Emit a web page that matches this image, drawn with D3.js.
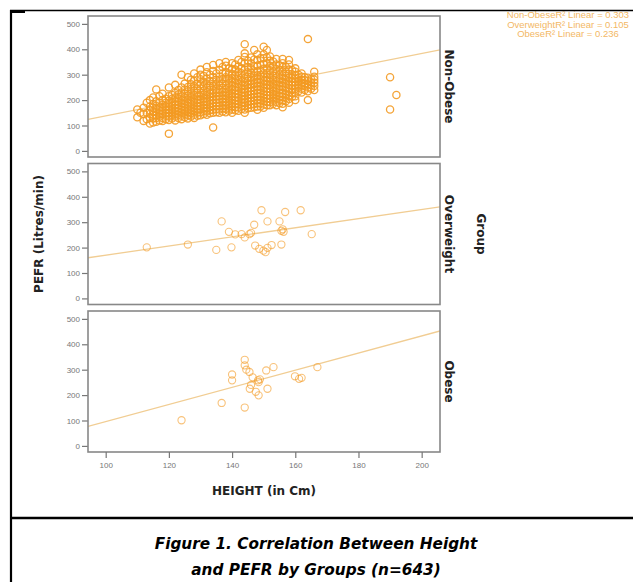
<!DOCTYPE html>
<html>
<head>
<meta charset="utf-8">
<script src="https://cdn.jsdelivr.net/npm/d3@7"></script>
<style>
  body { margin: 0; background: #fff; }
</style>
</head>
<body>
<div id="grafico"></div>
<script>
const WIDTH = 633;
const HEIGHT = 582;

// groups shown as facets (top to bottom)
const groups = ["Non-Obese", "Overweight", "Obese"];

// Non-Obese: height (cm) with the PEFR values read in that column
const nonObese = [
  [110, [132, 163]],
  [111, [150]],
  [112, [118, 145, 170]],
  [113, [125, 150, 190]],
  [114, [108, 130, 145, 160, 175, 200]],
  [115, [112, 128, 142, 155, 170, 185, 210]],
  [116, [115, 130, 140, 152, 165, 178, 195, 242]],
  [117, [120, 135, 148, 160, 172, 190, 215]],
  [118, [118, 130, 145, 158, 170, 182, 200, 225]],
  [119, [125, 138, 150, 163, 176, 190, 205]],
  [120, [68, 122, 135, 148, 160, 172, 185, 198, 215, 250]],
  [121, [128, 140, 152, 165, 178, 190, 205, 220]],
  [122, [120, 135, 147, 158, 170, 182, 195, 210, 228, 260]],
  [123, [130, 142, 155, 168, 180, 193, 207, 222, 240]],
  [124, [125, 138, 150, 162, 175, 188, 200, 214, 230, 250, 300]],
  [125, [132, 145, 158, 170, 183, 196, 210, 225, 242, 265]],
  [126, [128, 140, 152, 165, 178, 190, 203, 218, 234, 252, 290]],
  [127, [135, 148, 160, 172, 185, 198, 212, 226, 244, 262, 280]],
  [128, [130, 142, 155, 168, 180, 192, 205, 220, 236, 255, 275, 305]],
  [129, [138, 150, 162, 175, 188, 200, 214, 228, 245, 264, 290]],
  [130, [140, 152, 165, 177, 190, 202, 215, 230, 246, 262, 282, 300, 320]],
  [131, [145, 158, 170, 182, 195, 208, 222, 238, 254, 272, 295]],
  [132, [142, 155, 167, 180, 192, 205, 218, 232, 248, 265, 285, 310, 330]],
  [133, [148, 160, 172, 185, 198, 211, 225, 240, 256, 275, 300]],
  [134, [92, 150, 162, 175, 188, 200, 213, 226, 240, 256, 272, 290, 315, 338]],
  [135, [152, 165, 178, 190, 203, 216, 230, 245, 262, 280, 305]],
  [136, [150, 163, 176, 189, 202, 215, 228, 242, 258, 274, 292, 318, 345]],
  [137, [155, 168, 180, 193, 206, 219, 233, 248, 265, 283, 305, 330]],
  [138, [152, 165, 178, 190, 203, 216, 229, 243, 258, 274, 290, 310, 335, 350]],
  [139, [158, 170, 183, 196, 209, 222, 236, 251, 267, 285, 305, 325]],
  [140, [150, 163, 176, 189, 202, 215, 228, 242, 256, 271, 287, 303, 322, 345]],
  [141, [160, 172, 185, 198, 211, 224, 238, 252, 268, 284, 300, 320, 340]],
  [142, [158, 171, 184, 197, 210, 223, 236, 250, 264, 279, 295, 312, 332, 358]],
  [143, [165, 178, 191, 204, 217, 230, 244, 258, 273, 289, 306, 325, 350]],
  [144, [150, 163, 176, 189, 202, 215, 228, 242, 256, 270, 286, 302, 320, 345, 370, 384, 420]],
  [145, [168, 181, 194, 207, 220, 233, 247, 261, 276, 292, 310, 330, 355]],
  [146, [170, 183, 196, 209, 222, 235, 248, 262, 276, 291, 307, 325, 345, 368]],
  [147, [172, 185, 198, 211, 224, 237, 251, 265, 280, 296, 313, 333, 360, 397]],
  [148, [162, 175, 188, 201, 214, 227, 240, 254, 268, 283, 298, 315, 335, 358, 380]],
  [149, [175, 188, 201, 214, 227, 240, 254, 268, 283, 299, 317, 338, 365]],
  [150, [170, 183, 196, 209, 222, 235, 248, 262, 276, 291, 306, 323, 342, 365, 380, 410]],
  [151, [180, 193, 206, 219, 232, 246, 260, 275, 290, 306, 324, 345, 368, 397]],
  [152, [180, 192, 205, 218, 231, 244, 258, 272, 286, 301, 317, 335, 355, 372]],
  [153, [185, 198, 211, 224, 237, 251, 265, 280, 296, 313, 332, 352]],
  [154, [180, 193, 206, 219, 232, 246, 260, 274, 289, 305, 322, 340, 362]],
  [155, [188, 201, 214, 227, 241, 255, 270, 285, 301, 318, 336]],
  [156, [172, 186, 199, 212, 226, 240, 254, 268, 283, 298, 314, 330, 345, 362]],
  [157, [195, 208, 222, 236, 250, 265, 280, 296, 312, 330]],
  [158, [190, 204, 218, 232, 246, 260, 274, 288, 303, 320, 340, 358]],
  [159, [213, 228, 243, 258, 272, 287, 302, 318]],
  [160, [200, 215, 230, 245, 258, 270, 283, 297, 312, 325]],
  [161, [235, 250, 262, 275, 288, 300]],
  [162, [230, 245, 258, 268, 280, 292, 305]],
  [163, [240, 255, 265, 278, 290]],
  [164, [200, 235, 250, 262, 275, 288, 440]],
  [165, [245, 258, 270, 282]],
  [166, [240, 255, 268, 280, 292, 312]],
  [190, [163, 290]],
  [192, [220]]
];

// Overweight: [height, PEFR]
const overweight = [
  [113, 201], [126, 212], [135, 191], [136.7, 303], [139.8, 201], [139, 262],
  [141, 252], [143, 253], [145.5, 253], [147, 290], [149.3, 347], [151.2, 303],
  [147.3, 208], [148.6, 195], [149.9, 188], [151.2, 199], [150.6, 182], [152.5, 210],
  [155, 303], [155.6, 266], [156, 272], [156.3, 262], [155.6, 212], [156.8, 340],
  [161.7, 347], [165.2, 253], [146, 258], [144, 240]
];

// Obese: [height, PEFR]
const obese = [
  [124, 101], [136.7, 169], [140, 281], [140, 258], [144, 339], [144, 317],
  [144, 151], [144.5, 300], [145.5, 291], [145.6, 225], [146, 240], [147.5, 213],
  [148.2, 258], [148.4, 251], [148.8, 262], [148.4, 199], [150.8, 297], [153.1, 310],
  [151.2, 225], [159.9, 274], [161.2, 264], [162, 268], [167, 310], [146.5, 270]
];

// linear fit per group
const fitIntercept = [-108.2, -9.9, -241.1];
const fitSlope = [2.46, 1.80, 3.37];
const rSquared = ["0.303", "0.105", "0.236"];

const yTicks = [0, 100, 200, 300, 400, 500];
const xTicks = [100, 120, 140, 160, 180, 200];

const captionLines = ["Figure 1. Correlation Between Height", "and PEFR by Groups (n=643)"];

// layout
const panelLeft = 88;
const panelRight = 440;
const panelTops = [16, 163.5, 311];
const panelH = 141;
const dotColor = "#f39a22";
const fitColor = "#f1cd93";
const boldFont = "'DejaVu Sans', Verdana, sans-serif";

let svg = d3.select("#grafico")
    .append("svg")
    .attr("width", WIDTH)
    .attr("height", HEIGHT)
    .style("display", "block");

svg.append("rect").attr("width", WIDTH).attr("height", HEIGHT).attr("fill", "#fff");

let x = d3.scaleLinear()
    .domain([94.4, 205.8])
    .range([panelLeft, panelRight]);

let pointSets = [
    nonObese.flatMap(([h, vals]) => vals.map(v => [h, v])),
    overweight,
    obese
];

groups.forEach((g, i) => {
    let top = panelTops[i];
    let y = d3.scaleLinear()
        .domain([-24, 531])
        .range([top + panelH, top]);

    let panel = svg.append("g");

    svg.append("clipPath")
        .attr("id", "clip" + i)
        .append("rect")
        .attr("x", panelLeft)
        .attr("y", top)
        .attr("width", panelRight - panelLeft)
        .attr("height", panelH);

    // y axis
    let yAxis = d3.axisLeft(y).tickValues(yTicks).tickSize(6).tickPadding(2);
    let ya = panel.append("g")
        .attr("transform", `translate(${panelLeft},0)`)
        .call(yAxis);
    ya.select(".domain").remove();
    ya.selectAll("line").attr("stroke", "#777").attr("stroke-width", 1.2);
    ya.selectAll("text")
        .attr("fill", "#777")
        .style("font-family", "'Liberation Sans', Arial, sans-serif")
        .style("font-size", "8px");

    // fit line
    let xd = x.domain();
    panel.append("line")
        .attr("clip-path", `url(#clip${i})`)
        .attr("x1", x(xd[0]))
        .attr("y1", y(fitIntercept[i] + fitSlope[i] * xd[0]))
        .attr("x2", x(xd[1]))
        .attr("y2", y(fitIntercept[i] + fitSlope[i] * xd[1]))
        .attr("stroke", fitColor)
        .attr("stroke-width", 1.3);

    // points
    panel.selectAll(".pt")
        .data(pointSets[i])
        .enter()
        .append("circle")
        .attr("cx", d => x(d[0]))
        .attr("cy", d => y(d[1]))
        .attr("r", 3.6)
        .attr("fill", "none")
        .attr("stroke", dotColor)
        .attr("stroke-opacity", i === 0 ? 0.9 : 0.6)
        .attr("stroke-width", i === 0 ? 1.3 : 1.1);

    // frame
    panel.append("rect")
        .attr("x", panelLeft)
        .attr("y", top)
        .attr("width", panelRight - panelLeft)
        .attr("height", panelH)
        .attr("fill", "none")
        .attr("stroke", "#888")
        .attr("stroke-width", 1.6);

    // facet label
    panel.append("text")
        .attr("transform", `translate(${panelRight + 5},${top + panelH / 2}) rotate(90)`)
        .attr("text-anchor", "middle")
        .style("font-family", boldFont)
        .style("font-weight", "bold")
        .style("font-size", "12px")
        .attr("fill", "#222")
        .text(g);

    // x axis only under last panel
    if (i === groups.length - 1) {
        let xa = panel.append("g")
            .attr("transform", `translate(0,${top + panelH})`)
            .call(d3.axisBottom(x).tickValues(xTicks).tickSize(6).tickPadding(4));
        xa.select(".domain").remove();
        xa.selectAll("line").attr("stroke", "#777").attr("stroke-width", 1.2);
        xa.selectAll("text")
            .attr("fill", "#777")
            .style("font-family", "'Liberation Sans', Arial, sans-serif")
            .style("font-size", "8px");
    }
});

// axis titles
svg.append("text")
    .attr("transform", `translate(43,${panelTops[1] + panelH / 2}) rotate(-90)`)
    .attr("text-anchor", "middle")
    .style("font-family", boldFont)
    .style("font-weight", "bold")
    .style("font-size", "12px")
    .attr("fill", "#222")
    .text("PEFR (Litres/min)");

svg.append("text")
    .attr("x", (panelLeft + panelRight) / 2)
    .attr("y", 495)
    .attr("text-anchor", "middle")
    .style("font-family", boldFont)
    .style("font-weight", "bold")
    .style("font-size", "12px")
    .attr("fill", "#222")
    .text("HEIGHT (in Cm)");

svg.append("text")
    .attr("transform", `translate(477,${panelTops[1] + panelH / 2}) rotate(90)`)
    .attr("text-anchor", "middle")
    .style("font-family", boldFont)
    .style("font-weight", "bold")
    .style("font-size", "12px")
    .attr("fill", "#222")
    .text("Group");

// fit legend, top right
svg.selectAll(".legend")
    .data(groups)
    .enter()
    .append("text")
    .attr("x", 568)
    .attr("y", (d, i) => 18 + i * 9.5)
    .attr("text-anchor", "middle")
    .style("font-family", "'Liberation Sans', Arial, sans-serif")
    .style("font-size", "9.5px")
    .attr("fill", "#f3b865")
    .text((d, i) => `${d}R² Linear = ${rSquared[i]}`);

// figure frame
svg.append("line").attr("x1", 10).attr("x2", WIDTH).attr("y1", 10.5).attr("y2", 10.5)
    .attr("stroke", "#000").attr("stroke-width", 1.5);
svg.append("rect").attr("x", 10).attr("y", 10).attr("width", 15).attr("height", 3).attr("fill", "#000");
svg.append("line").attr("x1", 11).attr("x2", 11).attr("y1", 10).attr("y2", HEIGHT)
    .attr("stroke", "#000").attr("stroke-width", 2.2);
svg.append("line").attr("x1", 10).attr("x2", WIDTH).attr("y1", 518).attr("y2", 518)
    .attr("stroke", "#000").attr("stroke-width", 2.5);

// caption
svg.selectAll(".caption")
    .data(captionLines)
    .enter()
    .append("text")
    .attr("x", 316)
    .attr("y", (d, i) => 549 + i * 26)
    .attr("text-anchor", "middle")
    .style("font-family", boldFont)
    .style("font-weight", "bold")
    .style("font-style", "italic")
    .style("font-size", "15.3px")
    .attr("fill", "#000")
    .text(d => d);
</script>
</body>
</html>
